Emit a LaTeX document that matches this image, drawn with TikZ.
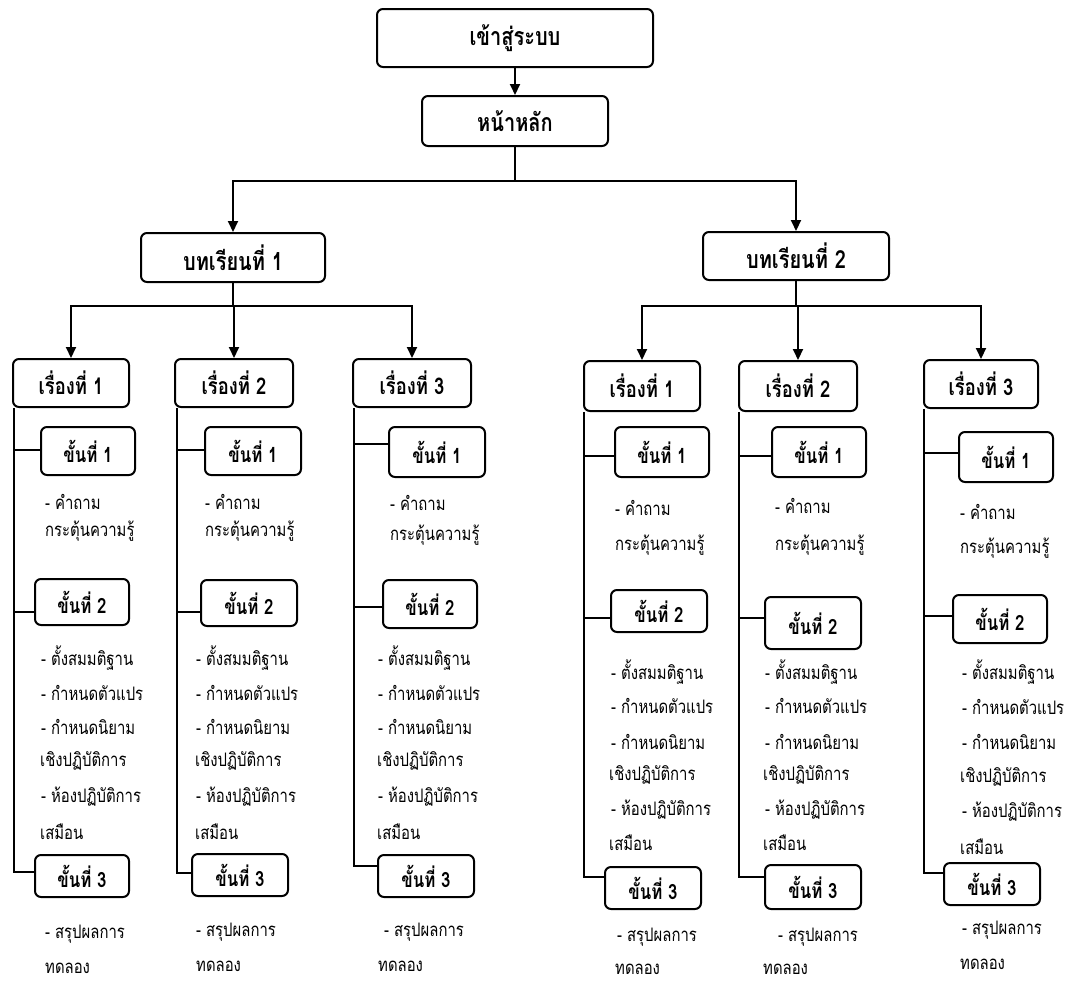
\documentclass[tikz,border=0pt]{standalone}
\usepackage{fontspec}
\setmainfont[Script=Thai, FakeStretch=0.8]{Loma}
\usetikzlibrary{arrows.meta}
\tikzset{
  box/.style={draw, line width=2pt, rounded corners=6pt, inner sep=0pt, font=\bfseries\fontsize{21}{24}\selectfont},
  topicbox/.style={box, font=\bfseries\fontsize{23}{26}\selectfont},
  bigbox/.style={box, font=\bfseries\fontsize{25}{28}\selectfont},
  body/.style={anchor=west, inner sep=0pt, font=\fontsize{18.6}{21}\selectfont},
  line/.style={line width=2pt},
  arr/.style={line width=2pt, -{Triangle[length=11pt,width=10pt]}},
}
\newcommand\bx[7][box]{\node[#1, minimum width={#5-#3}, minimum height={#6-#4}] (#2) at ({(#3+#5)/2},{(#4+#6)/2}) {#7};}
\newcommand\tx[4]{\node[body] (#1) at (#2,#3) {#4};}
% spine, box, absolute y of connector
\newcommand\conn[3]{\coordinate (#2y) at (0,#3); \draw[line] (#1 |- #2y) -- (#2.west |- #2y);}
\begin{document}
\begin{tikzpicture}[x=1pt,y=-1pt]
\useasboundingbox (0,0) rectangle (1070,983);
% top
\bx[bigbox]{top}{377}{9}{653}{67}{เข้าสู่ระบบ}
\bx[bigbox]{home}{422}{96}{608}{146}{หน้าหลัก}
\bx[bigbox]{L1}{141}{233}{325}{282}{บทเรียนที่ 1}
\bx[bigbox]{L2}{703}{232}{889}{280}{บทเรียนที่ 2}
\draw[arr] (top.south) -- (top.south |- home.north);
\draw[arr] (home.south) -- ++(0,34) -| (L1.north);
\draw[arr] (home.south) -- ++(0,34) -| (L2.north);
% topics
\bx[topicbox]{A}{13}{359}{129}{407}{เรื่องที่ 1}
\bx[topicbox]{B}{175}{359}{293}{407}{เรื่องที่ 2}
\bx[topicbox]{C}{353}{359}{471}{407}{เรื่องที่ 3}
\bx[topicbox]{D}{584}{361}{700}{411}{เรื่องที่ 1}
\bx[topicbox]{E}{739}{361}{857}{411}{เรื่องที่ 2}
\bx[topicbox]{F}{924}{360}{1038}{408}{เรื่องที่ 3}
\draw[arr] (L1.south) -- ++(0,23) -| (A.north);
\draw[arr] (L1.south) -- ++(0,23) -| (B.north);
\draw[arr] (L1.south) -- ++(0,23) -| (C.north);
\draw[arr] (L2.south) -- ++(0,25) -| (D.north);
\draw[arr] (L2.south) -- ++(0,25) -| (E.north);
\draw[arr] (L2.south) -- ++(0,25) -| (F.north);
% steps
\bx{A1}{41}{427}{135}{475}{ขั้นที่ 1}
\bx{A2}{35}{579}{129}{625}{ขั้นที่ 2}
\bx{A3}{35}{855}{129}{897}{ขั้นที่ 3}
\bx{B1}{205}{427}{301}{475}{ขั้นที่ 1}
\bx{B2}{201}{580}{297}{626}{ขั้นที่ 2}
\bx{B3}{192}{854}{288}{896}{ขั้นที่ 3}
\bx{C1}{389}{427}{485}{477}{ขั้นที่ 1}
\bx{C2}{383}{580}{477}{628}{ขั้นที่ 2}
\bx{C3}{378}{855}{474}{897}{ขั้นที่ 3}
\bx{D1}{615}{427}{709}{477}{ขั้นที่ 1}
\bx{D2}{611}{590}{707}{632}{ขั้นที่ 2}
\bx{D3}{605}{867}{701}{909}{ขั้นที่ 3}
\bx{E1}{772}{427}{866}{477}{ขั้นที่ 1}
\bx{E2}{765}{597}{861}{649}{ขั้นที่ 2}
\bx{E3}{765}{865}{861}{909}{ขั้นที่ 3}
\bx{F1}{959}{432}{1053}{482}{ขั้นที่ 1}
\bx{F2}{953}{595}{1047}{643}{ขั้นที่ 2}
\bx{F3}{944}{863}{1040}{905}{ขั้นที่ 3}
% vertical spines
\coordinate (Av) at ([xshift=2pt]A.south west);
\coordinate (Bv) at ([xshift=3pt]B.south west);
\coordinate (Cv) at ([xshift=2pt]C.south west);
\coordinate (Dv) at ([xshift=1pt]D.south west);
\coordinate (Ev) at ([xshift=1pt]E.south west);
\coordinate (Fv) at ([xshift=1pt]F.south west);
\conn{Av}{A1}{450}\conn{Av}{A2}{612}\coordinate (A3y) at (0,872);
\conn{Bv}{B1}{450}\conn{Bv}{B2}{612}\coordinate (B3y) at (0,873);
\conn{Cv}{C1}{444}\conn{Cv}{C2}{607}\coordinate (C3y) at (0,866);
\conn{Dv}{D1}{456}\conn{Dv}{D2}{618}\coordinate (D3y) at (0,877);
\conn{Ev}{E1}{456}\conn{Ev}{E2}{618}\coordinate (E3y) at (0,877);
\conn{Fv}{F1}{453}\conn{Fv}{F2}{616}\coordinate (F3y) at (0,873);
\draw[line] (Av) |- (A3.west |- A3y);
\draw[line] (Bv) |- (B3.west |- B3y);
\draw[line] (Cv) |- (C3.west |- C3y);
\draw[line] (Dv) |- (D3.west |- D3y);
\draw[line] (Ev) |- (E3.west |- E3y);
\draw[line] (Fv) |- (F3.west |- F3y);
% texts column A
\tx{a11}{45}{502}{- คำถาม}
\tx{a12}{45}{531}{กระตุ้นความรู้}
\tx{a21}{41}{658}{- ตั้งสมมติฐาน}
\tx{a22}{41}{693}{- กำหนดตัวแปร}
\tx{a23}{41}{727}{- กำหนดนิยาม}
\tx{a24}{40}{761}{เชิงปฏิบัติการ}
\tx{a25}{41}{797}{- ห้องปฏิบัติการ}
\tx{a26}{40}{832}{เสมือน}
\tx{a31}{45}{934}{- สรุปผลการ}
\tx{a32}{45}{968}{ทดลอง}
% column B
\tx{b11}{205}{502}{- คำถาม}
\tx{b12}{205}{531}{กระตุ้นความรู้}
\tx{b21}{196}{658}{- ตั้งสมมติฐาน}
\tx{b22}{196}{693}{- กำหนดตัวแปร}
\tx{b23}{196}{727}{- กำหนดนิยาม}
\tx{b24}{195}{761}{เชิงปฏิบัติการ}
\tx{b25}{196}{797}{- ห้องปฏิบัติการ}
\tx{b26}{195}{832}{เสมือน}
\tx{b31}{196}{932}{- สรุปผลการ}
\tx{b32}{196}{966}{ทดลอง}
% column C
\tx{c11}{390}{503}{- คำถาม}
\tx{c12}{390}{535}{กระตุ้นความรู้}
\tx{c21}{378}{658}{- ตั้งสมมติฐาน}
\tx{c22}{378}{693}{- กำหนดตัวแปร}
\tx{c23}{378}{727}{- กำหนดนิยาม}
\tx{c24}{377}{761}{เชิงปฏิบัติการ}
\tx{c25}{378}{797}{- ห้องปฏิบัติการ}
\tx{c26}{377}{832}{เสมือน}
\tx{c31}{384}{932}{- สรุปผลการ}
\tx{c32}{378}{966}{ทดลอง}
% column D
\tx{d11}{615}{508}{- คำถาม}
\tx{d12}{615}{545}{กระตุ้นความรู้}
\tx{d21}{611}{672}{- ตั้งสมมติฐาน}
\tx{d22}{611}{706}{- กำหนดตัวแปร}
\tx{d23}{611}{742}{- กำหนดนิยาม}
\tx{d24}{609}{775}{เชิงปฏิบัติการ}
\tx{d25}{611}{810}{- ห้องปฏิบัติการ}
\tx{d26}{609}{843}{เสมือน}
\tx{d31}{617}{937}{- สรุปผลการ}
\tx{d32}{615}{969}{ทดลอง}
% column E
\tx{e11}{775}{506}{- คำถาม}
\tx{e12}{775}{545}{กระตุ้นความรู้}
\tx{e21}{765}{672}{- ตั้งสมมติฐาน}
\tx{e22}{765}{706}{- กำหนดตัวแปร}
\tx{e23}{765}{742}{- กำหนดนิยาม}
\tx{e24}{763}{775}{เชิงปฏิบัติการ}
\tx{e25}{765}{810}{- ห้องปฏิบัติการ}
\tx{e26}{763}{843}{เสมือน}
\tx{e31}{778}{937}{- สรุปผลการ}
\tx{e32}{763}{969}{ทดลอง}
% column F
\tx{f11}{960}{512}{- คำถาม}
\tx{f12}{960}{548}{กระตุ้นความรู้}
\tx{f21}{962}{672}{- ตั้งสมมติฐาน}
\tx{f22}{962}{707}{- กำหนดตัวแปร}
\tx{f23}{962}{742}{- กำหนดนิยาม}
\tx{f24}{960}{777}{เชิงปฏิบัติการ}
\tx{f25}{962}{812}{- ห้องปฏิบัติการ}
\tx{f26}{960}{847}{เสมือน}
\tx{f31}{962}{930}{- สรุปผลการ}
\tx{f32}{960}{964}{ทดลอง}
\end{tikzpicture}
\end{document}
